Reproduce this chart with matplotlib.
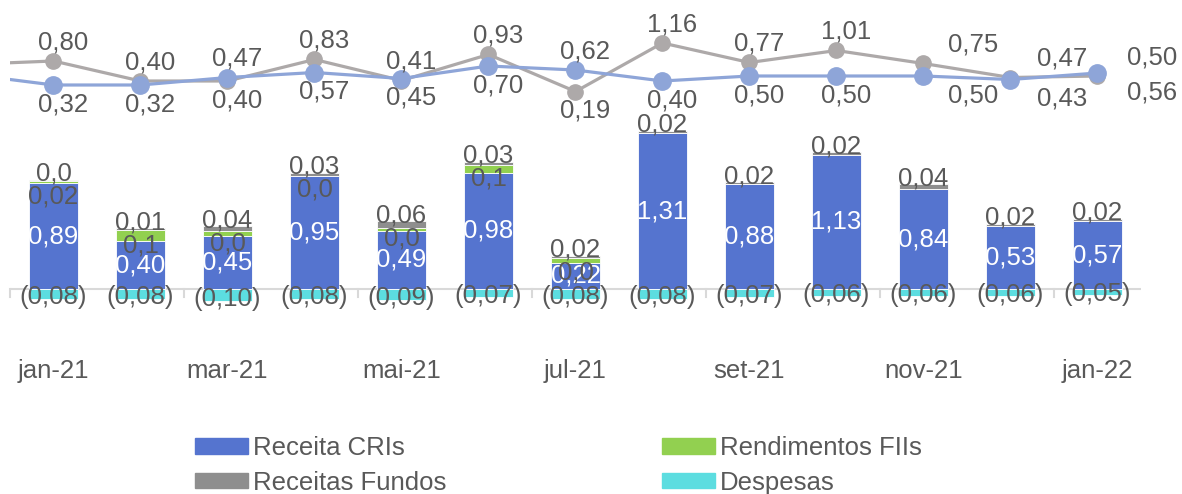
import numpy as np
import matplotlib.pyplot as plt
from matplotlib.patches import Patch

plt.rcParams['font.family'] = ['Liberation Sans', 'DejaVu Sans']

meses = ["jan-21", "fev-21", "mar-21", "abr-21", "mai-21", "jun-21", "jul-21",
         "ago-21", "set-21", "out-21", "nov-21", "dez-21", "jan-22"]

# composicao do resultado por cota (R$)
receita_cri = [0.89, 0.40, 0.45, 0.95, 0.49, 0.98, 0.22, 1.31, 0.88, 1.13, 0.84, 0.53, 0.57]
rend_fii = [0.02, 0.10, 0.04, 0.00, 0.02, 0.06, 0.04, None, None, None, None, None, None]
rend_fii_casas = [2, 1, 1, 1, 1, 1, 1, 0, 0, 0, 0, 0, 0]
receita_fundos = [0.01, 0.01, 0.04, 0.03, 0.06, 0.03, 0.02, 0.02, 0.02, 0.02, 0.04, 0.02, 0.02]
receita_fundos_casas = [1, 2, 2, 2, 2, 2, 2, 2, 2, 2, 2, 2, 2]
despesas = [-0.08, -0.08, -0.10, -0.08, -0.09, -0.07, -0.08, -0.08, -0.07, -0.06, -0.06, -0.06, -0.05]

# linhas: o primeiro valor e o de dez-20, fora da janela do grafico
resultado = [0.73, 0.80, 0.40, 0.40, 0.83, 0.41, 0.93, 0.19, 1.16, 0.77, 1.01, 0.75, 0.47, 0.50]
distribuicao = [0.54, 0.32, 0.32, 0.47, 0.57, 0.45, 0.70, 0.62, 0.40, 0.50, 0.50, 0.50, 0.43, 0.56]
pos_resultado = "aabaaabaaaaaa"
pos_distribuicao = "bbabbbabbbbbb"

AZUL = "#5574CF"
VERDE = "#92D050"
CINZA = "#8E8E8E"
CIANO = "#5CDDE0"
LINHA_CINZA = "#ADA9A9"
LINHA_AZUL = "#8EA5D8"
TEXTO = "#595959"
FS = 18.5


def fmt(v, casas=2):
    s = f"{abs(v):.{casas}f}".replace(".", ",")
    return f"({s})" if v < 0 else s


W, H = 1182, 494
fig = plt.figure(figsize=(W / 100, H / 100), dpi=100)
ax = fig.add_axes([10 / W, 144 / H, 1131 / W, 350 / H])
ax2 = ax.twinx()

x = np.arange(len(meses))
largura = 0.57
cri = np.array(receita_cri)
fii = np.array([np.nan if v is None else v for v in rend_fii])
fii0 = np.nan_to_num(fii)
fundos = np.array(receita_fundos)
desp = np.array(despesas)
topo = cri + fii0 + fundos

ax.bar(x, cri, largura, color=AZUL, edgecolor="white", linewidth=0.6)
ax.bar(x, fii0, largura, bottom=cri, color=VERDE, edgecolor="white", linewidth=0.6)
ax.bar(x, fundos, largura, bottom=cri + fii0, color=CINZA, edgecolor="white", linewidth=0.6)
ax.bar(x, desp, largura, color=CIANO, edgecolor="white", linewidth=0.6)

for i in x:
    ax.text(i, cri[i] / 2, fmt(cri[i]), color="white", fontsize=FS, ha="center", va="center")
    # fundos em cima da barra, FIIs logo abaixo
    ax.annotate(fmt(fundos[i], receita_fundos_casas[i]), (i, topo[i]), xytext=(0, 6),
                textcoords="offset pixels", color=TEXTO, fontsize=FS, ha="center", va="center")
    if not np.isnan(fii[i]):
        ax.annotate(fmt(fii[i], rend_fii_casas[i]), (i, topo[i]), xytext=(0, -5),
                    textcoords="offset pixels", color=TEXTO, fontsize=FS, ha="center", va="top")
    ax.text(i, desp[i] * 0.8, fmt(desp[i]), color=TEXTO, fontsize=FS, ha="center", va="center")

# escala das barras
ax.set_ylim(-61 / 118.8, 289 / 118.8)
ax.set_xlim(-0.5, len(meses) - 0.5)

# eixo horizontal no zero
ax.axhline(0, color="#D9D9D9", lw=1.5, zorder=0.5)
for t in np.arange(-0.5, len(meses) - 1, 2):
    ax.plot([t, t], [0, -0.065], color="#D9D9D9", lw=1.5, zorder=0.5, clip_on=False)

for i in range(0, len(meses), 2):
    ax.text(i, -0.06, meses[i], transform=ax.get_xaxis_transform(),
            ha="center", va="center", fontsize=FS, color=TEXTO)

# linhas no eixo secundario
xl = np.arange(-1, len(meses))
ax2.plot(xl, resultado, color=LINHA_CINZA, lw=2.3, marker="o", ms=11, zorder=3)
ax2.plot(xl, distribuicao, color=LINHA_AZUL, lw=2.3, marker="o", ms=12.5, zorder=4)
ax2.set_ylim(-249 / 50, 101 / 50)

extra = [0] * 10 + [40, 42, 45]
for serie, pos in ((resultado, pos_resultado), (distribuicao, pos_distribuicao)):
    for i in range(len(meses)):
        v = serie[i + 1]
        dy = 19 if pos[i] == "a" else -19
        ax2.annotate(fmt(v), (i, v), xytext=(10 + extra[i], dy), textcoords="offset pixels",
                     ha="center", va="center", fontsize=FS, color=TEXTO, zorder=5)

for a in (ax, ax2):
    for s in a.spines.values():
        s.set_visible(False)
    a.set_yticks([])
    a.set_xticks([])

handles = [Patch(color=AZUL, label="Receita CRIs"),
           Patch(color=CINZA, label="Receitas Fundos"),
           Patch(color=VERDE, label="Rendimentos FIIs"),
           Patch(color=CIANO, label="Despesas")]
leg = fig.legend(handles=handles, ncol=2, loc="upper left", bbox_to_anchor=(195 / W, 1 - 436 / H),
                 frameon=False, fontsize=FS, handlelength=2.05, handleheight=0.55,
                 handletextpad=0.2, columnspacing=8.4, labelspacing=0.42, borderpad=0,
                 borderaxespad=0)
for t in leg.get_texts():
    t.set_color(TEXTO)

fig.savefig("out.png", dpi=100)
